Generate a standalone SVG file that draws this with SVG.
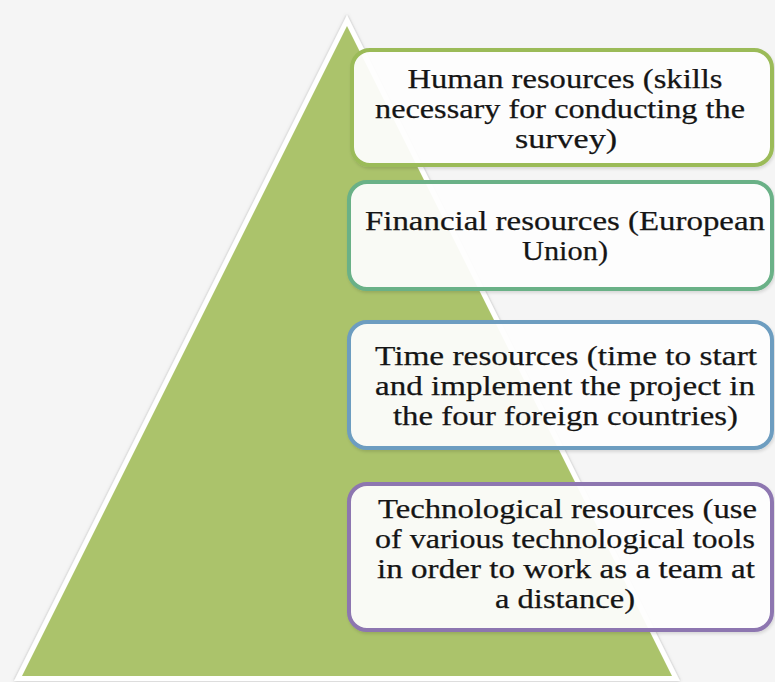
<svg xmlns="http://www.w3.org/2000/svg" width="775" height="682" viewBox="0 0 775 682">
<defs>
<filter id="sh" x="-10%" y="-10%" width="120%" height="120%">
<feDropShadow dx="0" dy="0" stdDeviation="1.5" flood-color="#888" flood-opacity="0.6"/>
</filter>
<filter id="bsh" x="-5%" y="-10%" width="110%" height="125%">
<feDropShadow dx="1" dy="2" stdDeviation="1.5" flood-color="#000" flood-opacity="0.12"/>
</filter>
</defs>
<style>
.box{fill:#ffffff;fill-opacity:0.93;stroke-width:4;}
.t{font-family:"Liberation Serif","Times New Roman",serif;font-size:28px;fill:#151515;stroke:#151515;stroke-width:0.25;text-anchor:middle;}
</style>
<rect width="775" height="682" fill="#f5f5f5"/>
<g id="pyramid">
<polygon points="347,26 672,676 22,676" fill="#ffffff" stroke="#ffffff" stroke-width="10" stroke-linejoin="miter" filter="url(#sh)"/>
<polygon points="347,26 672,676 22,676" fill="#abc36b"/>
</g>
<g id="box-human">
<rect class="box" x="352" y="50" width="420" height="115" rx="18" stroke="#9bbb59" filter="url(#bsh)"/>
<text class="t" x="565" y="88" textLength="315" lengthAdjust="spacingAndGlyphs">Human resources (skills</text>
<text class="t" x="560" y="118" textLength="370" lengthAdjust="spacingAndGlyphs">necessary for conducting the</text>
<text class="t" x="566" y="148" textLength="102" lengthAdjust="spacingAndGlyphs">survey)</text>
</g>
<g id="box-financial">
<rect class="box" x="349" y="182" width="423" height="107" rx="18" stroke="#6ab187" filter="url(#bsh)"/>
<text class="t" x="565" y="230" textLength="400" lengthAdjust="spacingAndGlyphs">Financial resources (European</text>
<text class="t" x="565" y="260" textLength="86" lengthAdjust="spacingAndGlyphs">Union)</text>
</g>
<g id="box-time">
<rect class="box" x="349" y="322" width="423" height="126" rx="18" stroke="#6d9dc0" filter="url(#bsh)"/>
<text class="t" x="566" y="365" textLength="382" lengthAdjust="spacingAndGlyphs">Time resources (time to start</text>
<text class="t" x="565" y="395" textLength="380" lengthAdjust="spacingAndGlyphs">and implement the project in</text>
<text class="t" x="565.5" y="425" textLength="345" lengthAdjust="spacingAndGlyphs">the four foreign countries)</text>
</g>
<g id="box-technological">
<rect class="box" x="349" y="484" width="423" height="146" rx="18" stroke="#8d76b0" filter="url(#bsh)"/>
<text class="t" x="567.5" y="518" textLength="379" lengthAdjust="spacingAndGlyphs">Technological resources (use</text>
<text class="t" x="565" y="548" textLength="380" lengthAdjust="spacingAndGlyphs">of various technological tools</text>
<text class="t" x="566" y="578" textLength="378" lengthAdjust="spacingAndGlyphs">in order to work as a team at</text>
<text class="t" x="565" y="608" textLength="140" lengthAdjust="spacingAndGlyphs">a distance)</text>
</g>
</svg>
